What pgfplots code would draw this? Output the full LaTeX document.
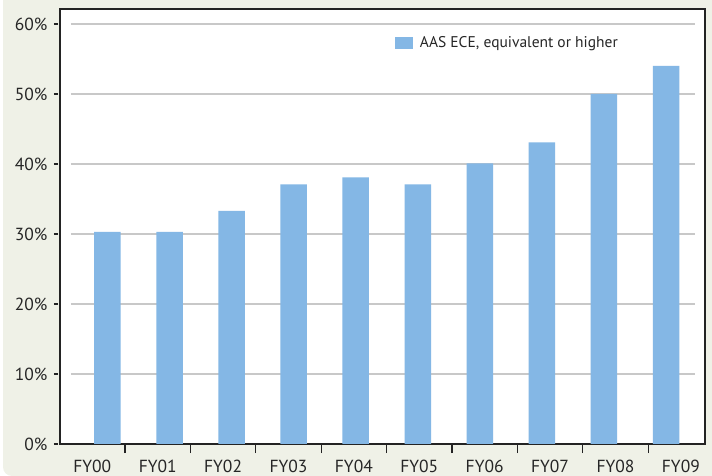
\documentclass[border=0pt]{standalone}
\usepackage{fontspec}
\setmainfont{PT Sans}
\usepackage{pgfplots}
\pgfplotsset{compat=1.18}
\definecolor{bgcol}{RGB}{239,241,231}
\definecolor{barcol}{RGB}{132,183,229}
\definecolor{gridcol}{RGB}{200,200,200}
\definecolor{axcol}{RGB}{35,35,35}
\begin{document}
\begin{tikzpicture}
\fill[bgcol, rounded corners=9bp] (3bp,0bp) rectangle (712bp,476bp);
\fill[bgcol] (3bp,30bp) rectangle (712bp,476bp);
\fill[bgcol] (30bp,0bp) rectangle (712bp,476bp);
\useasboundingbox (0bp,0bp) rectangle (712bp,476bp);
\begin{axis}[
  at={(60bp,32bp)}, anchor=south west,
  width=645bp, height=435bp, scale only axis,
  xmin=-0.494, xmax=9.369, ymin=0, ymax=62.14,
  axis background/.style={fill=white},
  axis line style={axcol, line width=1.5bp},
  /pgf/number format/assume math mode=true,
  xtick pos=bottom, ytick pos=left,
  tick align=outside, major tick length=9bp,
  tick style={axcol, line width=1.2bp},
  xtick={0.5,1.5,2.5,3.5,4.5,5.5,6.5,7.5,8.5},
  xticklabels={},
  extra x ticks={0,1,2,3,4,5,6,7,8,9},
  extra x tick labels={FY00,FY01,FY02,FY03,FY04,FY05,FY06,FY07,FY08,FY09},
  extra x tick style={major tick length=0pt},
  xticklabel style={yshift=-12.5bp},
  ytick={0,10,20,30,40,50,60},
  yticklabel={\pgfmathprintnumber{\tick}\%},
  y tick style={xshift=-2bp, dash pattern=on 0bp off 5bp on 4bp off 20bp},
  tick label style={font=\fontsize{17.5bp}{20bp}\selectfont, text=black!85},
  legend style={at={(0.519,0.922)}, anchor=west, draw=none, fill=none,
    inner sep=0pt, font=\fontsize{15.5bp}{18bp}\selectfont, text=black!85,
    /tikz/every odd column/.style={column sep=5bp}},
  legend image code/.code={\fill[barcol] (0bp,-6bp) rectangle (18bp,6bp);},
]
\pgfplotsinvokeforeach{10,20,30,40,50,60}{
  \addplot[gridcol, line width=1.3bp, forget plot] coordinates {(-0.326,#1) (9.216,#1)};
}
\addplot[ybar, bar width=0.405, bar shift=0pt, fill=barcol, draw=none]
  coordinates {(0.232,30.3) (1.181,30.3) (2.130,33.3) (3.079,37.1) (4.028,38.1)
               (4.977,37.1) (5.926,40.1) (6.875,43.1) (7.824,50.0) (8.773,54.0)};
\addlegendentry{AAS ECE, equivalent or higher}
\end{axis}
\end{tikzpicture}
\end{document}
